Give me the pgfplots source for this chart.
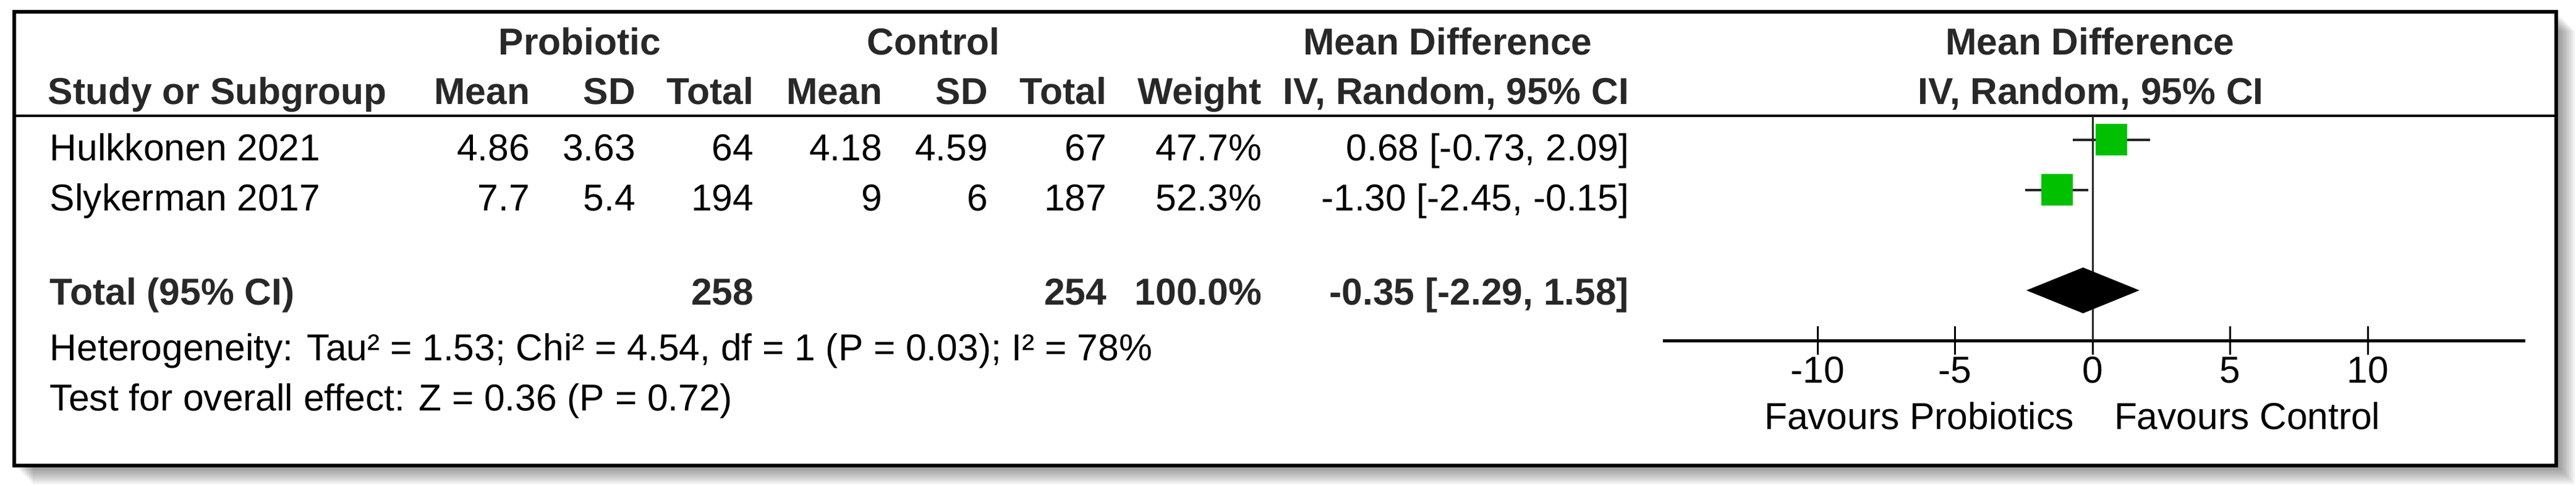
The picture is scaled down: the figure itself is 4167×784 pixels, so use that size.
\documentclass[border=0pt]{standalone}
\usepackage{pgfplots}
\pgfplotsset{compat=1.18}
\usepackage{fontspec}
\setmainfont{Liberation Sans}
\definecolor{boxgreen}{RGB}{0,192,0}
\definecolor{hdr}{RGB}{40,40,40}
\newcommand\fs{\fontsize{6.05bp}{7.2bp}\selectfont}

\begin{document}
\begin{tikzpicture}
\begin{scope}[x=0.1bp,y=-0.1bp,
  every node/.style={inner sep=0pt,font=\fs},
  l/.style={anchor=base west}, r/.style={anchor=base east}, c/.style={anchor=base},
  b/.style={font=\fs\bfseries,text=hdr}]
\useasboundingbox (0,0) rectangle (4167,784);
% shadow
\foreach \k in {3,6,...,30}
  \fill[black,opacity=0.05] (23+\k,19+\k) rectangle (4135+\k,752+\k);
\fill[white] (23,19) rectangle (4135,752);
\draw[line width=0.6bp] (23,19) rectangle (4135,752);
\draw[line width=0.45bp] (23,187) -- (4135,187);

% header
\node[c,b] at (938,88) {Probiotic};
\node[c,b] at (1510,88) {Control};
\node[c,b] at (2342,88) {Mean Difference};
\node[c,b] at (3381,88) {Mean Difference};
\node[l,b] at (76,168) {Study or Subgroup};
\node[r,b] at (859,168) {Mean};
\node[r,b] at (1030,168) {SD};
\node[r,b] at (1221,168) {Total};
\node[r,b] at (1429,168) {Mean};
\node[r,b] at (1600,168) {SD};
\node[r,b] at (1792,168) {Total};
\node[r,b] at (2043,168) {Weight};
\node[r,b] at (2637,168) {IV, Random, 95\% CI};
\node[c,b] at (3382,168) {IV, Random, 95\% CI};

% studies
\node[l] at (79,259) {Hulkkonen 2021};
\node[r] at (859,259) {4.86};
\node[r] at (1030,259) {3.63};
\node[r] at (1221,259) {64};
\node[r] at (1429,259) {4.18};
\node[r] at (1600,259) {4.59};
\node[r] at (1792,259) {67};
\node[r] at (2043,259) {47.7\%};
\node[r] at (2637,259) {0.68 [-0.73, 2.09]};

\node[l] at (79,340) {Slykerman 2017};
\node[r] at (859,340) {7.7};
\node[r] at (1030,340) {5.4};
\node[r] at (1221,340) {194};
\node[r] at (1429,340) {9};
\node[r] at (1600,340) {6};
\node[r] at (1792,340) {187};
\node[r] at (2043,340) {52.3\%};
\node[r] at (2637,340) {-1.30 [-2.45, -0.15]};

% total
\node[l,b] at (79,492) {Total (95\% CI)};
\node[r,b] at (1221,492) {258};
\node[r,b] at (1792,492) {254};
\node[r,b] at (2043,492) {100.0\%};
\node[r,b] at (2637,492) {-0.35 [-2.29, 1.58]};
\node[l] at (79,582) {Heterogeneity: Tau² = 1.53; Chi² = 4.54, df = 1 (P = 0.03); I² = 78\%};
\node[l] at (79,663) {Test for overall effect: Z = 0.36 (P = 0.72)};

\node[r] at (3357,693) {Favours Probiotics};
\node[l] at (3418,693) {Favours Control};
\end{scope}

\begin{axis}[
  at={(269bp,-55bp)}, anchor=south west,
  scale only axis, width=139.5bp, height=36.3bp,
  xmin=-15.62, xmax=15.73, ymin=0, ymax=4.48,
  axis x line*=bottom, axis y line=none,
  x axis line style={line width=0.5bp},
  xtick={-10,-5,0,5,10}, xticklabels={-10,-5,0,5,10},
  ytick=\empty,
  tick align=center, major tick length=4.6bp,
  every tick/.style={black, line width=0.3bp},
  xticklabel style={font=\fs, anchor=base, inner sep=0pt, yshift=-4.5bp},
  clip=false,
]
% line of no effect
\addplot[line width=0.3bp, black!85, mark=none] coordinates {(0,0) (0,4.48)};
% confidence intervals
\addplot[line width=0.4bp, black!85, mark=none] coordinates {(-0.73,4) (2.09,4)};
\addplot[line width=0.4bp, black!85, mark=none] coordinates {(-2.45,3) (-0.15,3)};
% study estimates
\addplot[only marks, mark=square*, mark size=2.5bp, boxgreen,
  mark options={line width=0.1bp}] coordinates {(0.68,4) (-1.30,3)};
% pooled estimate
\addplot[fill=black, draw=black, mark=none] coordinates {(-2.29,1) (-0.35,1.43) (1.58,1) (-0.35,0.57)} -- cycle;
\end{axis}
\end{tikzpicture}
\end{document}
